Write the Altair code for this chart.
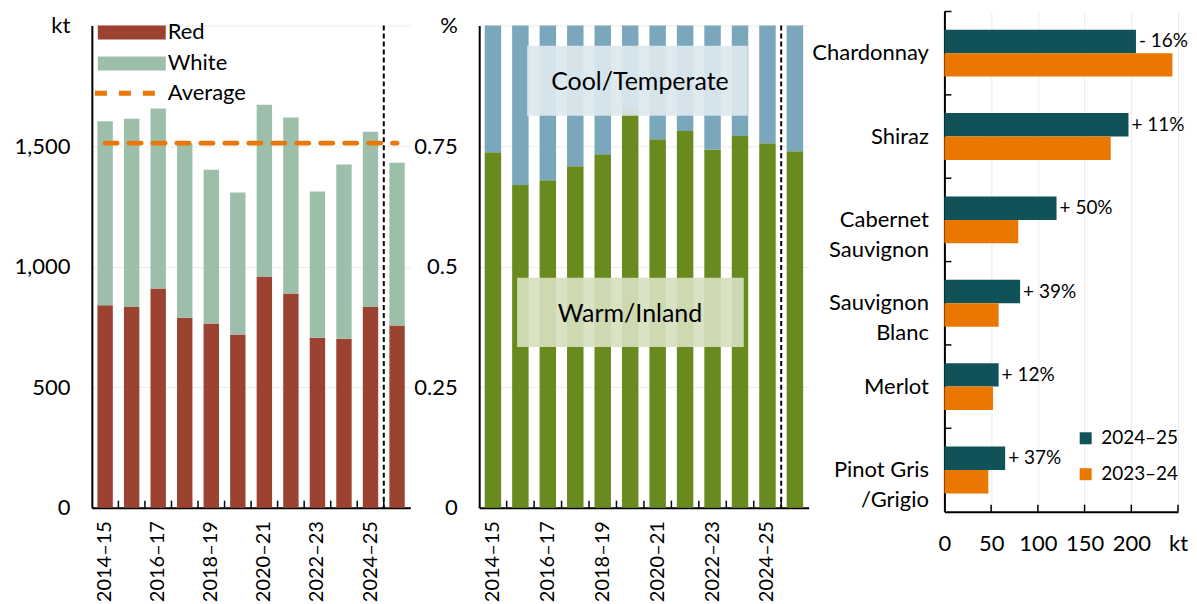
import altair as alt
import pandas as pd

# ---------------- data ----------------
seasons = ["2014–15", "2015–16", "2016–17", "2017–18", "2018–19", "2019–20",
           "2020–21", "2021–22", "2022–23", "2023–24", "2024–25", "2025–26"]
labelled_seasons = ["2014–15", "2016–17", "2018–19", "2020–21", "2022–23", "2024–25"]
divider_season = "2025–26"

red_kt = [840, 832, 909, 788, 764, 718, 957, 888, 705, 701, 832, 756]
white_kt = [763, 781, 747, 723, 638, 589, 714, 730, 606, 722, 727, 675]
average_kt = 1512

warm_share = [0.737, 0.669, 0.679, 0.708, 0.733, 0.829, 0.764, 0.781, 0.743, 0.771, 0.756, 0.739]
cool_share = [0.263, 0.331, 0.321, 0.292, 0.267, 0.171, 0.236, 0.219, 0.257, 0.229, 0.244, 0.261]

varieties = ["Chardonnay", "Shiraz", "Cabernet Sauvignon", "Sauvignon Blanc", "Merlot", "Pinot Gris /Grigio"]
variety_lines = {"Cabernet Sauvignon": ["Cabernet", "Sauvignon"],
                 "Sauvignon Blanc": ["Sauvignon", "Blanc"],
                 "Pinot Gris /Grigio": ["Pinot Gris", "/Grigio"]}
kt_2425 = [205, 197, 120, 81, 58, 65]
kt_2324 = [244, 178, 79, 58, 52, 47]
change_labels = ["- 16%", "+ 11%", "+ 50%", "+ 39%", "+ 12%", "+ 37%"]
years_right = ["2024–25", "2023–24"]

left_ticks = [0, 500, 1000, 1500, 2000]
mid_ticks = [0, 0.25, 0.5, 0.75, 1]
right_ticks = [0, 50, 100, 150, 200, 250]

# ---------------- styles ----------------
RED = "#9C4230"
WHITE = "#9DBFAA"
ORANGE = "#E8780C"
GREEN = "#688A1F"
BLUE = "#7BA7BD"
TEAL = "#105258"
ORANGE2 = "#E97700"
GRID = "#EBEBEB"
FONT = "Lato"
FS = 22

W1, W2, W3 = 319, 330, 234
H = 497          # full panel height (left/middle), scale starts TOP px below
TOP = 14
H3 = 501

# ---------------- left panel ----------------
left_df = pd.DataFrame({
    "season": seasons * 2,
    "colour": ["Red"] * len(seasons) + ["White"] * len(seasons),
    "kt": red_kt + white_kt,
})
avg_df = pd.DataFrame({"season": seasons, "kt": [average_kt] * len(seasons),
                       "series": ["Average"] * len(seasons)})
tick_df = pd.DataFrame({"season": seasons[1:]})
div_df = pd.DataFrame({"season": [divider_season]})

x_season_axis = alt.Axis(values=labelled_seasons, labelAngle=-90, labelAlign="right",
                         labelBaseline="middle", labelPadding=13, labelFontSize=20, ticks=False,
                         domainColor="black", domainWidth=2, title=None)
x_season = alt.X("season:N", sort=seasons,
                 scale=alt.Scale(domain=seasons, paddingInner=0, paddingOuter=0),
                 axis=x_season_axis)

left_bars = alt.Chart(left_df).mark_bar(width={"band": 0.58}).encode(
    x=x_season,
    y=alt.Y("kt:Q", stack="zero", scale=alt.Scale(domain=[0, 2000], range=[H, TOP]),
            axis=alt.Axis(values=left_ticks,
                          labelExpr="datum.value == 2000 ? 'kt' : format(datum.value, ',')",
                          labelPadding=22, ticks=False, grid=True, gridColor=GRID,
                          labelFlush=False, domainColor="black", domainWidth=2, title=None)),
    color=alt.Color("colour:N", scale=alt.Scale(domain=["Red", "White"], range=[RED, WHITE]),
                    legend=alt.Legend(orient="none", legendX=29, legendY=10, title=None,
                                      symbolType="M-4.86,-1H4.86V1H-4.86Z", symbolSize=196,
                                      symbolStrokeWidth=0, labelOffset=25, labelFontSize=FS,
                                      labelFont=FONT, labelColor="black", rowPadding=9, padding=0)),
    order=alt.Order("colour:N", sort="ascending"),
)

avg_line = alt.Chart(avg_df).mark_line(color=ORANGE, strokeWidth=5, strokeCap="round").encode(
    x=alt.X("season:N", sort=seasons),
    y="kt:Q",
    strokeDash=alt.StrokeDash("series:N", scale=alt.Scale(domain=["Average"], range=[[12, 12]]),
                              legend=alt.Legend(orient="none", legendX=25, legendY=71, title=None,
                                                symbolType="M-4.7,0H4.7", symbolSize=196,
                                                symbolStrokeWidth=5, symbolStrokeColor=ORANGE,
                                                labelOffset=29, labelFontSize=FS, labelFont=FONT,
                                                labelColor="black", padding=0)),
)

left_ticks_marks = alt.Chart(tick_df).mark_rule(color="black", strokeWidth=1.5).encode(
    x=alt.X("season:N", sort=seasons, bandPosition=0),
    y=alt.value(H - 7), y2=alt.value(H))

left_div = alt.Chart(div_df).mark_rule(color="black", strokeWidth=2, strokeDash=[5, 3]).encode(
    x=alt.X("season:N", sort=seasons, bandPosition=0),
    y=alt.value(TOP), y2=alt.value(H))

left = alt.layer(left_bars, avg_line, left_div, left_ticks_marks).properties(width=W1, height=H)

# ---------------- middle panel ----------------
mid_df = pd.DataFrame({
    "season": seasons * 2,
    "region": ["Warm/Inland"] * len(seasons) + ["Cool/Temperate"] * len(seasons),
    "rank": [0] * len(seasons) + [1] * len(seasons),
    "share": warm_share + cool_share,
})

mid_bars = alt.Chart(mid_df).mark_bar(width={"band": 0.6}).encode(
    x=x_season,
    y=alt.Y("share:Q", stack="zero", scale=alt.Scale(domain=[0, 1], range=[H, TOP]),
            axis=alt.Axis(values=mid_ticks,
                          labelExpr="datum.value == 1 ? '%' : format(datum.value, '.2~f')",
                          labelPadding=22, ticks=False, grid=True, gridColor=GRID,
                          labelFlush=False, domainColor="black", domainWidth=2, title=None)),
    color=alt.Color("region:N", scale=alt.Scale(domain=["Warm/Inland", "Cool/Temperate"],
                                                range=[GREEN, BLUE]), legend=None),
    order=alt.Order("rank:Q", sort="ascending"),
)

cool_box = alt.Chart(div_df).mark_rect(color="#DCE8EE", opacity=0.92).encode(
    x=alt.value(48), x2=alt.value(269), y=alt.datum(0.958), y2=alt.datum(0.813))
warm_box = alt.Chart(div_df).mark_rect(color="#D6E0BE", opacity=0.92).encode(
    x=alt.value(38), x2=alt.value(265), y=alt.datum(0.477), y2=alt.datum(0.333))
cool_text = alt.Chart(div_df).mark_text(text="Cool/Temperate", font=FONT, fontSize=25,
                                        color="black").encode(
    x=alt.value(161), y=alt.datum(0.882))
warm_text = alt.Chart(div_df).mark_text(text="Warm/Inland", font=FONT, fontSize=25,
                                        color="black").encode(
    x=alt.value(151), y=alt.datum(0.402))

mid_ticks_marks = alt.Chart(tick_df).mark_rule(color="black", strokeWidth=1.5).encode(
    x=alt.X("season:N", sort=seasons, bandPosition=0),
    y=alt.value(H - 7), y2=alt.value(H))
mid_div = alt.Chart(div_df).mark_rule(color="black", strokeWidth=2, strokeDash=[5, 3]).encode(
    x=alt.X("season:N", sort=seasons, bandPosition=0),
    y=alt.value(TOP), y2=alt.value(H))

middle = alt.layer(mid_bars, cool_box, warm_box, cool_text, warm_text, mid_div,
                   mid_ticks_marks).properties(width=W2, height=H)

# ---------------- right panel ----------------
right_df = pd.DataFrame({
    "variety": varieties * 2,
    "year": [years_right[0]] * len(varieties) + [years_right[1]] * len(varieties),
    "kt": kt_2425 + kt_2324,
})
label_df = pd.DataFrame({"variety": varieties, "kt": kt_2425, "label": change_labels,
                         "year": [years_right[0]] * len(varieties)})
vtick_df = pd.DataFrame({"variety": varieties})
xtick_df = pd.DataFrame({"v": right_ticks[1:]})

label_expr = " : ".join(
    f"datum.label == '{k}' ? {v!r}" for k, v in variety_lines.items()) + " : datum.label"

y_var = alt.Y("variety:N", sort=varieties,
              scale=alt.Scale(domain=varieties, paddingInner=0, paddingOuter=0),
              axis=alt.Axis(labelExpr=label_expr, labelLineHeight=30, labelPadding=16,
                            ticks=False, domainColor="black", domainWidth=2, title=None))
y_off = alt.YOffset("year:N", scale=alt.Scale(domain=years_right, paddingOuter=0.78, paddingInner=0))

right_bars = alt.Chart(right_df).mark_bar().encode(
    y=y_var, yOffset=y_off,
    x=alt.X("kt:Q", scale=alt.Scale(domain=[0, 250], nice=False),
            axis=alt.Axis(values=right_ticks,
                          labelExpr="datum.value == 250 ? 'kt' : datum.label",
                          grid=True, gridColor=GRID, ticks=False, labelPadding=22,
                          labelFlush=False, domainColor="black", domainWidth=2, title=None)),
    color=alt.Color("year:N", scale=alt.Scale(domain=years_right, range=[TEAL, ORANGE2]),
                    legend=alt.Legend(orient="none", legendX=132, legendY=418, title=None,
                                      symbolType="square", symbolSize=144, symbolStrokeWidth=0,
                                      labelOffset=6, rowPadding=16, padding=0, labelFontSize=19,
                                      labelFont=FONT, labelColor="black")),
)
right_labels = alt.Chart(label_df).mark_text(align="left", dx=3, font=FONT, fontSize=19,
                                             color="black", baseline="middle").encode(
    y=y_var, yOffset=y_off, x="kt:Q", text="label:N")
right_vticks = alt.Chart(vtick_df).mark_rule(color="black", strokeWidth=1.5).encode(
    y=alt.Y("variety:N", sort=varieties, bandPosition=0), x=alt.value(0), x2=alt.value(7))
right_xticks = alt.Chart(xtick_df).mark_rule(color="black", strokeWidth=1.5).encode(
    x="v:Q", y=alt.value(H3 - 7), y2=alt.value(H3))

right = alt.layer(right_bars, right_labels, right_vticks, right_xticks).properties(width=W3, height=H3)

chart = alt.hconcat(left, middle, right, spacing=3).resolve_scale(
    color="independent", strokeDash="independent"
).resolve_legend(color="independent", strokeDash="independent").properties(
    padding={"left": 5, "top": 2, "right": 0, "bottom": 0}
).configure_view(strokeWidth=0).configure_axis(
    labelFont=FONT, labelFontSize=FS, labelColor="black"
).configure_text(font=FONT)

chart.save("out.html", embed_options={"renderer": "svg", "actions": False})
